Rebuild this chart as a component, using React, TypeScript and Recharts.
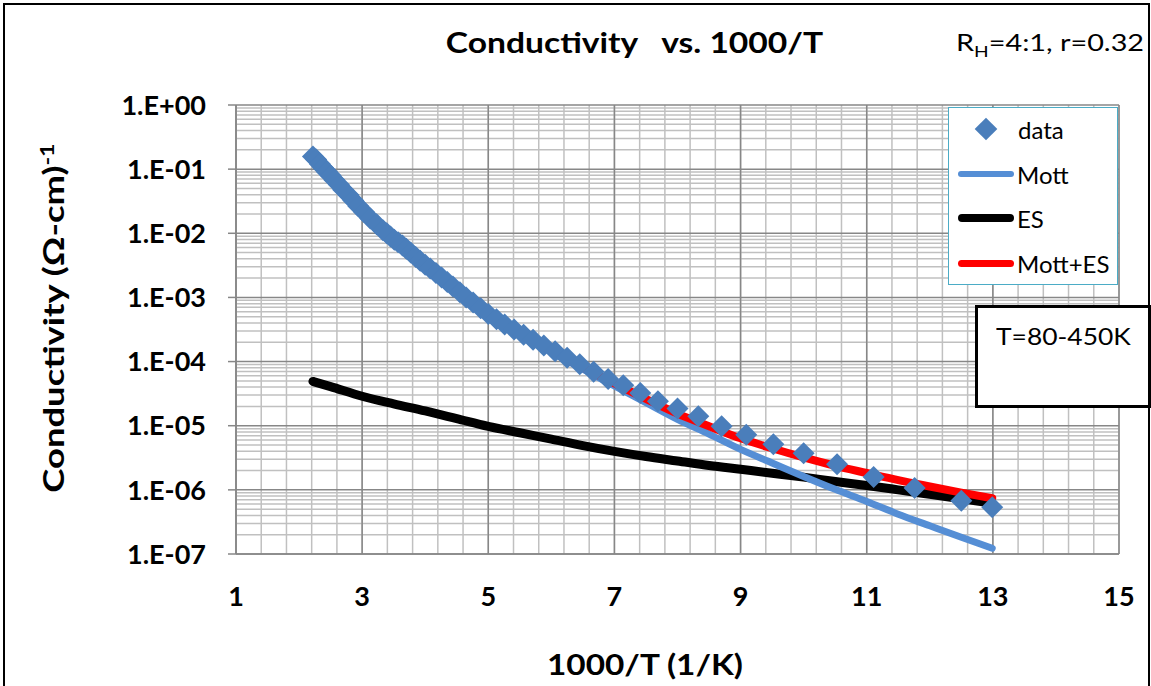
import { ComposedChart, Scatter, Line, XAxis, YAxis, CartesianGrid } from 'recharts'

// measured points, 1000/T (1/K) and conductivity (Ω-cm)^-1
const dataX = [
  2.22, 2.27, 2.33, 2.38, 2.44, 2.5, 2.56, 2.63, 2.7, 2.78, 2.86, 2.94, 3.03, 3.13, 3.23, 3.33,
  3.39, 3.45, 3.51, 3.57, 3.64, 3.7, 3.77, 3.85, 3.92, 4.0, 4.08, 4.17, 4.26, 4.35, 4.44, 4.55,
  4.65, 4.76, 4.88, 5.0, 5.13, 5.26, 5.41, 5.56, 5.71, 5.88, 6.06, 6.25, 6.45, 6.67, 6.9, 7.14,
  7.41, 7.69, 8.0, 8.33, 8.7, 9.09, 9.52, 10.0, 10.53, 11.11, 11.76, 12.5, 12.99,
]
const dataY = [
  1.58e-1, 1.41e-1, 1.2e-1, 1.05e-1, 9.12e-2, 7.94e-2, 6.76e-2, 5.75e-2, 4.79e-2, 3.98e-2, 3.24e-2,
  2.63e-2, 2.14e-2, 1.7e-2, 1.38e-2, 1.12e-2, 1.0e-2, 8.91e-3, 7.94e-3, 7.24e-3, 6.46e-3, 5.75e-3,
  5.01e-3, 4.27e-3, 3.72e-3, 3.24e-3, 2.82e-3, 2.4e-3, 2.04e-3, 1.74e-3, 1.48e-3, 1.2e-3, 1.0e-3,
  8.32e-4, 6.76e-4, 5.5e-4, 4.57e-4, 3.8e-4, 3.16e-4, 2.63e-4, 2.19e-4, 1.78e-4, 1.45e-4, 1.15e-4,
  9.12e-5, 6.92e-5, 5.37e-5, 4.27e-5, 3.24e-5, 2.4e-5, 1.86e-5, 1.41e-5, 9.77e-6, 7.24e-6, 5.13e-6,
  3.72e-6, 2.51e-6, 1.58e-6, 1.07e-6, 6.76e-7, 5.37e-7,
]

// fitted curves
const fitX = [2.22, 2.5, 3, 3.5, 4, 4.5, 5, 5.5, 6, 6.5, 7, 7.5, 8, 8.5, 9, 9.5, 10, 10.5, 11, 11.5, 12, 12.5, 12.99]
const mottY = [
  1.58e-1, 7.94e-2, 2.19e-2, 8.13e-3, 3.16e-3, 1.29e-3, 5.37e-4, 2.69e-4, 1.41e-4, 7.59e-5, 4.17e-5,
  2.29e-5, 1.26e-5, 7.41e-6, 4.27e-6, 2.63e-6, 1.62e-6, 1.02e-6, 6.61e-7, 4.17e-7, 2.75e-7, 1.82e-7, 1.23e-7,
]
const esY = [
  4.9e-5, 4.07e-5, 2.88e-5, 2.19e-5, 1.7e-5, 1.29e-5, 9.77e-6, 7.76e-6, 6.17e-6, 4.9e-6, 3.98e-6,
  3.31e-6, 2.82e-6, 2.4e-6, 2.09e-6, 1.82e-6, 1.58e-6, 1.35e-6, 1.17e-6, 1.0e-6, 8.51e-7, 7.24e-7, 6.17e-7,
]
const mottEsY = [
  1.58e-1, 7.94e-2, 2.19e-2, 8.16e-3, 3.18e-3, 1.3e-3, 5.47e-4, 2.77e-4, 1.47e-4, 8.08e-5, 4.57e-5,
  2.62e-5, 1.54e-5, 9.81e-6, 6.36e-6, 4.45e-6, 3.2e-6, 2.37e-6, 1.83e-6, 1.42e-6, 1.13e-6, 9.06e-7, 7.4e-7,
]

const xTicks = [1, 3, 5, 7, 9, 11, 13, 15]
const yTicks = [1e-7, 1e-6, 1e-5, 1e-4, 1e-3, 1e-2, 1e-1, 1]
const yTickLabels = ['1.E-07', '1.E-06', '1.E-05', '1.E-04', '1.E-03', '1.E-02', '1.E-01', '1.E+00']

const FONT = 'Lato, "Open Sans", sans-serif'
const BLUE_PT = '#4A7EBB'
const BLUE_LN = '#558ED5'

const xMinor: number[] = []
for (let i = 0; i <= 35; i++) xMinor.push(Math.round((1 + i * 0.4) * 10) / 10)
const yMinor: number[] = []
for (let d = -7; d < 0; d++) for (let k = 2; k <= 9; k++) yMinor.push(k * Math.pow(10, d))

const points = dataX.map((x, i) => ({ x, y: dataY[i] }))
const fits = fitX.map((x, i) => ({ x, mott: mottY[i], es: esY[i], mottEs: mottEsY[i] }))

const Diamond = (p: any) => {
  const r = 11
  return <path d={`M${p.cx},${p.cy - r}L${p.cx + r},${p.cy}L${p.cx},${p.cy + r}L${p.cx - r},${p.cy}Z`} fill={BLUE_PT} />
}

const YTick = (p: any) => {
  const i = yTicks.indexOf(p.payload.value)
  return (
    <text x={p.x - 20} y={p.y} dy="0.36em" textAnchor="end" fontFamily={FONT} fontWeight={700} fontSize={27} fill="#000">
      {yTickLabels[i] ?? ''}
    </text>
  )
}

const XTick = (p: any) => (
  <text x={p.x} y={p.y + 34} dy="0.36em" textAnchor="middle" fontFamily={FONT} fontWeight={700} fontSize={27} fill="#000">
    {p.payload.value}
  </text>
)

const legendRow = (y: number, color: string, w: number, label: string) => (
  <div style={{ position: 'absolute', left: 0, top: y - 16, height: 32, display: 'flex', alignItems: 'center' }}>
    <div style={{ width: 56, height: w, marginLeft: 9, borderRadius: w, background: color }} />
    <span style={{ marginLeft: 3 }}>{label}</span>
  </div>
)

export default function App() {
  return (
    <div style={{ position: 'absolute', left: 0, top: 0, width: 1151, height: 686, background: '#fff', fontFamily: FONT, overflow: 'hidden' }}>
      <ComposedChart width={1151} height={686} margin={{ top: 105, right: 32, bottom: 0, left: 0 }}>
        <CartesianGrid stroke="#C0C0C0" strokeWidth={1.5} horizontalValues={yMinor} verticalValues={xMinor} />
        <CartesianGrid stroke="#878787" strokeWidth={1.5} horizontalValues={yTicks} verticalValues={xTicks} />
        <XAxis
          type="number"
          dataKey="x"
          domain={[1, 15]}
          ticks={xTicks}
          interval={0}
          allowDataOverflow
          height={132}
          tickLine={false}
          axisLine={{ stroke: '#878787', strokeWidth: 1.5 }}
          tick={<XTick />}
        />
        <YAxis
          type="number"
          scale="log"
          domain={[1e-7, 1]}
          ticks={yTicks}
          interval={0}
          allowDataOverflow
          width={236}
          tickSize={8}
          tickLine={{ stroke: '#878787', strokeWidth: 1.5 }}
          axisLine={{ stroke: '#878787', strokeWidth: 1.5 }}
          tick={<YTick />}
        />
        <Line data={fits} dataKey="es" type="monotone" stroke="#000" strokeWidth={9} strokeLinecap="round" dot={false} isAnimationActive={false} />
        <Line data={fits} dataKey="mott" type="monotone" stroke={BLUE_LN} strokeWidth={7} strokeLinecap="round" dot={false} isAnimationActive={false} />
        <Line data={fits} dataKey="mottEs" type="monotone" stroke="#FF0000" strokeWidth={8} strokeLinecap="round" dot={false} isAnimationActive={false} />
        <Scatter data={points} dataKey="y" shape={<Diamond />} isAnimationActive={false} />
      </ComposedChart>

      {/* outer frame */}
      <div style={{ position: 'absolute', left: 3, top: 3, width: 1143, height: 700, border: '2px solid #000' }} />

      <div
        style={{
          position: 'absolute', left: 0, width: 1269, top: 26, lineHeight: '32px', textAlign: 'center',
          fontSize: 28, fontWeight: 700, whiteSpace: 'pre', transform: 'scaleX(1.2)',
        }}
      >
        {'Conductivity   vs. 1000/T'}
      </div>
      <div
        style={{
          position: 'absolute', left: 956, top: 27, lineHeight: '30px', fontSize: 24,
          whiteSpace: 'nowrap', transform: 'scaleX(1.2)', transformOrigin: 'left center',
        }}
      >
        R<sub style={{ fontSize: 16 }}>H</sub>=4:1, r=0.32
      </div>

      <div
        style={{
          position: 'absolute', left: 0, width: 1290, top: 648, lineHeight: '32px', textAlign: 'center',
          fontSize: 28, fontWeight: 700, transform: 'scaleX(1.19)',
        }}
      >
        1000/T (1/K)
      </div>
      <div
        style={{
          position: 'absolute', left: 50, top: 318, transform: 'translate(-50%, -50%) rotate(-90deg) scaleX(1.3)',
          whiteSpace: 'nowrap', fontSize: 28, fontWeight: 700, lineHeight: '32px',
        }}
      >
        Conductivity (Ω-cm)<sup style={{ fontSize: 18 }}>-1</sup>
      </div>

      {/* legend */}
      <div style={{ position: 'absolute', left: 948, top: 107, width: 168, height: 176, border: '1.5px solid #4BACC6', background: '#fff', fontSize: 24 }}>
        <div style={{ position: 'absolute', left: 0, top: 5, height: 32, display: 'flex', alignItems: 'center' }}>
          <div style={{ width: 16, height: 16, marginLeft: 29, background: BLUE_PT, transform: 'rotate(45deg)' }} />
          <span style={{ marginLeft: 24 }}>data</span>
        </div>
        {legendRow(66, BLUE_LN, 6, 'Mott')}
        {legendRow(110, '#000', 8, 'ES')}
        {legendRow(155, '#FF0000', 7, 'Mott+ES')}
      </div>

      <div style={{ position: 'absolute', left: 975, top: 305, width: 170, height: 97, border: '3px solid #000', background: '#fff', fontSize: 24 }}>
        <div style={{ position: 'absolute', left: 18, top: 13, transform: 'scaleX(1.1)', transformOrigin: 'left center' }}>T=80-450K</div>
      </div>
    </div>
  )
}
